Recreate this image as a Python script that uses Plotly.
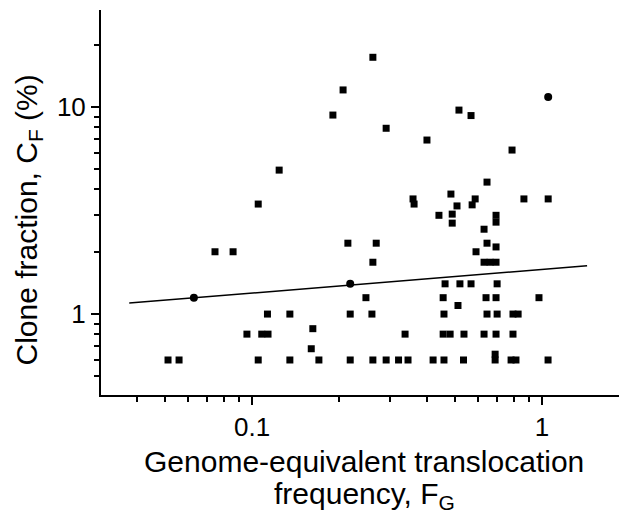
import plotly.graph_objects as go

# Square markers: (FG, CF)
fg_sq = [0.261, 0.206, 0.190, 0.517, 0.569, 0.290, 0.401, 0.788, 0.124, 0.646,
         0.485, 0.359, 0.362, 0.509, 0.588, 0.574, 0.866, 1.05, 0.105,
         0.441, 0.490, 0.490, 0.694, 0.694, 0.631, 0.214, 0.268, 0.646, 0.694, 0.592,
         0.0745, 0.086, 0.261, 0.631, 0.662, 0.694,
         0.463, 0.521, 0.569, 0.700,
         0.247, 0.456, 0.641, 0.694, 0.976, 0.513,
         0.113, 0.135, 0.218, 0.259, 0.459, 0.646, 0.700, 0.794, 0.827,
         0.162, 0.096, 0.108, 0.1135, 0.337, 0.456, 0.482, 0.538, 0.631, 0.694, 0.794,
         0.160,
         0.0513, 0.056, 0.105, 0.135, 0.170, 0.218, 0.261, 0.290, 0.320, 0.345,
         0.421, 0.459, 0.536, 0.689, 0.689, 0.782, 0.813, 1.049]
cf_sq = [17.4, 12.1, 9.15, 9.67, 9.1, 7.9, 6.93, 6.2, 4.96, 4.34,
         3.80, 3.6, 3.4, 3.33, 3.6, 3.37, 3.6, 3.6, 3.4,
         3.0, 3.04, 2.75, 3.0, 2.78, 2.57, 2.2, 2.2, 2.2, 2.11, 2.0,
         2.0, 2.0, 1.78, 1.78, 1.78, 1.78,
         1.40, 1.40, 1.40, 1.40,
         1.2, 1.2, 1.2, 1.2, 1.2, 1.1,
         1.0, 1.0, 1.0, 1.0, 1.0, 1.0, 1.0, 1.0, 1.0,
         0.85, 0.8, 0.8, 0.8, 0.8, 0.8, 0.8, 0.8, 0.8, 0.8, 0.8,
         0.68,
         0.6, 0.6, 0.6, 0.6, 0.6, 0.6, 0.6, 0.6, 0.6, 0.6,
         0.6, 0.6, 0.6, 0.64, 0.6, 0.6, 0.6, 0.6]

# Round markers
fg_ci = [1.05, 0.218, 0.063]
cf_ci = [11.2, 1.40, 1.2]

# Fitted line
fit_fg = [0.0377, 1.43]
fit_cf = [1.13, 1.71]

x_major = [0.1, 1]
x_major_text = ["0.1", "1"]
x_minor = [0.03, 0.04, 0.05, 0.06, 0.07, 0.08, 0.09, 0.2, 0.3, 0.4, 0.5, 0.6, 0.7, 0.8, 0.9]
y_major = [1, 10]
y_major_text = ["1", "10"]
y_minor = [0.5, 0.6, 0.7, 0.8, 0.9, 2, 3, 4, 5, 6, 7, 8, 9, 20]

x_title_1 = "Genome-equivalent translocation"
x_title_2 = "frequency, F<sub>G</sub>"
y_title = "Clone fraction, C<sub>F</sub> (%)"

FONT = "Liberation Sans, Arial, sans-serif"

fig = go.Figure()
fig.add_trace(go.Scatter(x=fit_fg, y=fit_cf, mode="lines",
                         line=dict(color="black", width=1.5), showlegend=False))
fig.add_trace(go.Scatter(x=fg_sq, y=cf_sq, mode="markers",
                         marker=dict(symbol="square", size=7, color="black"),
                         showlegend=False))
fig.add_trace(go.Scatter(x=fg_ci, y=cf_ci, mode="markers",
                         marker=dict(symbol="circle", size=8, color="black"),
                         showlegend=False))

# page body has an 8px default margin; figure sized to fill the rest of the window
fig.update_layout(
    width=619, height=507,
    margin=dict(l=93, r=0, t=2, b=120),
    paper_bgcolor="white", plot_bgcolor="white",
    font=dict(family=FONT, size=27, color="black"),
)
fig.update_xaxes(
    type="log", range=[-1.521, 0.293],
    showgrid=False, zeroline=False, showline=True, linecolor="black", linewidth=2,
    ticks="outside", ticklen=8, tickwidth=1.5, tickcolor="black",
    tickmode="array", tickvals=x_major, ticktext=x_major_text,
    minor=dict(ticks="outside", ticklen=5, tickwidth=1.5, tickcolor="black",
               tickmode="array", tickvals=x_minor, showgrid=False),
    tickfont=dict(size=26),
)
fig.update_yaxes(
    type="log", range=[-0.391, 1.469],
    showgrid=False, zeroline=False, showline=True, linecolor="black", linewidth=2,
    ticks="outside", ticklen=8, tickwidth=1.5, tickcolor="black",
    tickmode="array", tickvals=y_major, ticktext=y_major_text,
    minor=dict(ticks="outside", ticklen=5, tickwidth=1.5, tickcolor="black",
               tickmode="array", tickvals=y_minor, showgrid=False),
    tickfont=dict(size=26),
)
fig.add_annotation(text=y_title, textangle=-90, xref="paper", yref="paper",
                   x=-0.1375, y=0.455, xanchor="center", yanchor="middle",
                   showarrow=False, font=dict(size=30))
fig.add_annotation(text=x_title_1, xref="paper", yref="paper",
                   x=0.5, y=-0.172, xanchor="center", yanchor="middle",
                   showarrow=False, font=dict(size=30))
fig.add_annotation(text=x_title_2, xref="paper", yref="paper",
                   x=0.5, y=-0.262, xanchor="center", yanchor="middle",
                   showarrow=False, font=dict(size=30))

fig.write_html("out.html")
